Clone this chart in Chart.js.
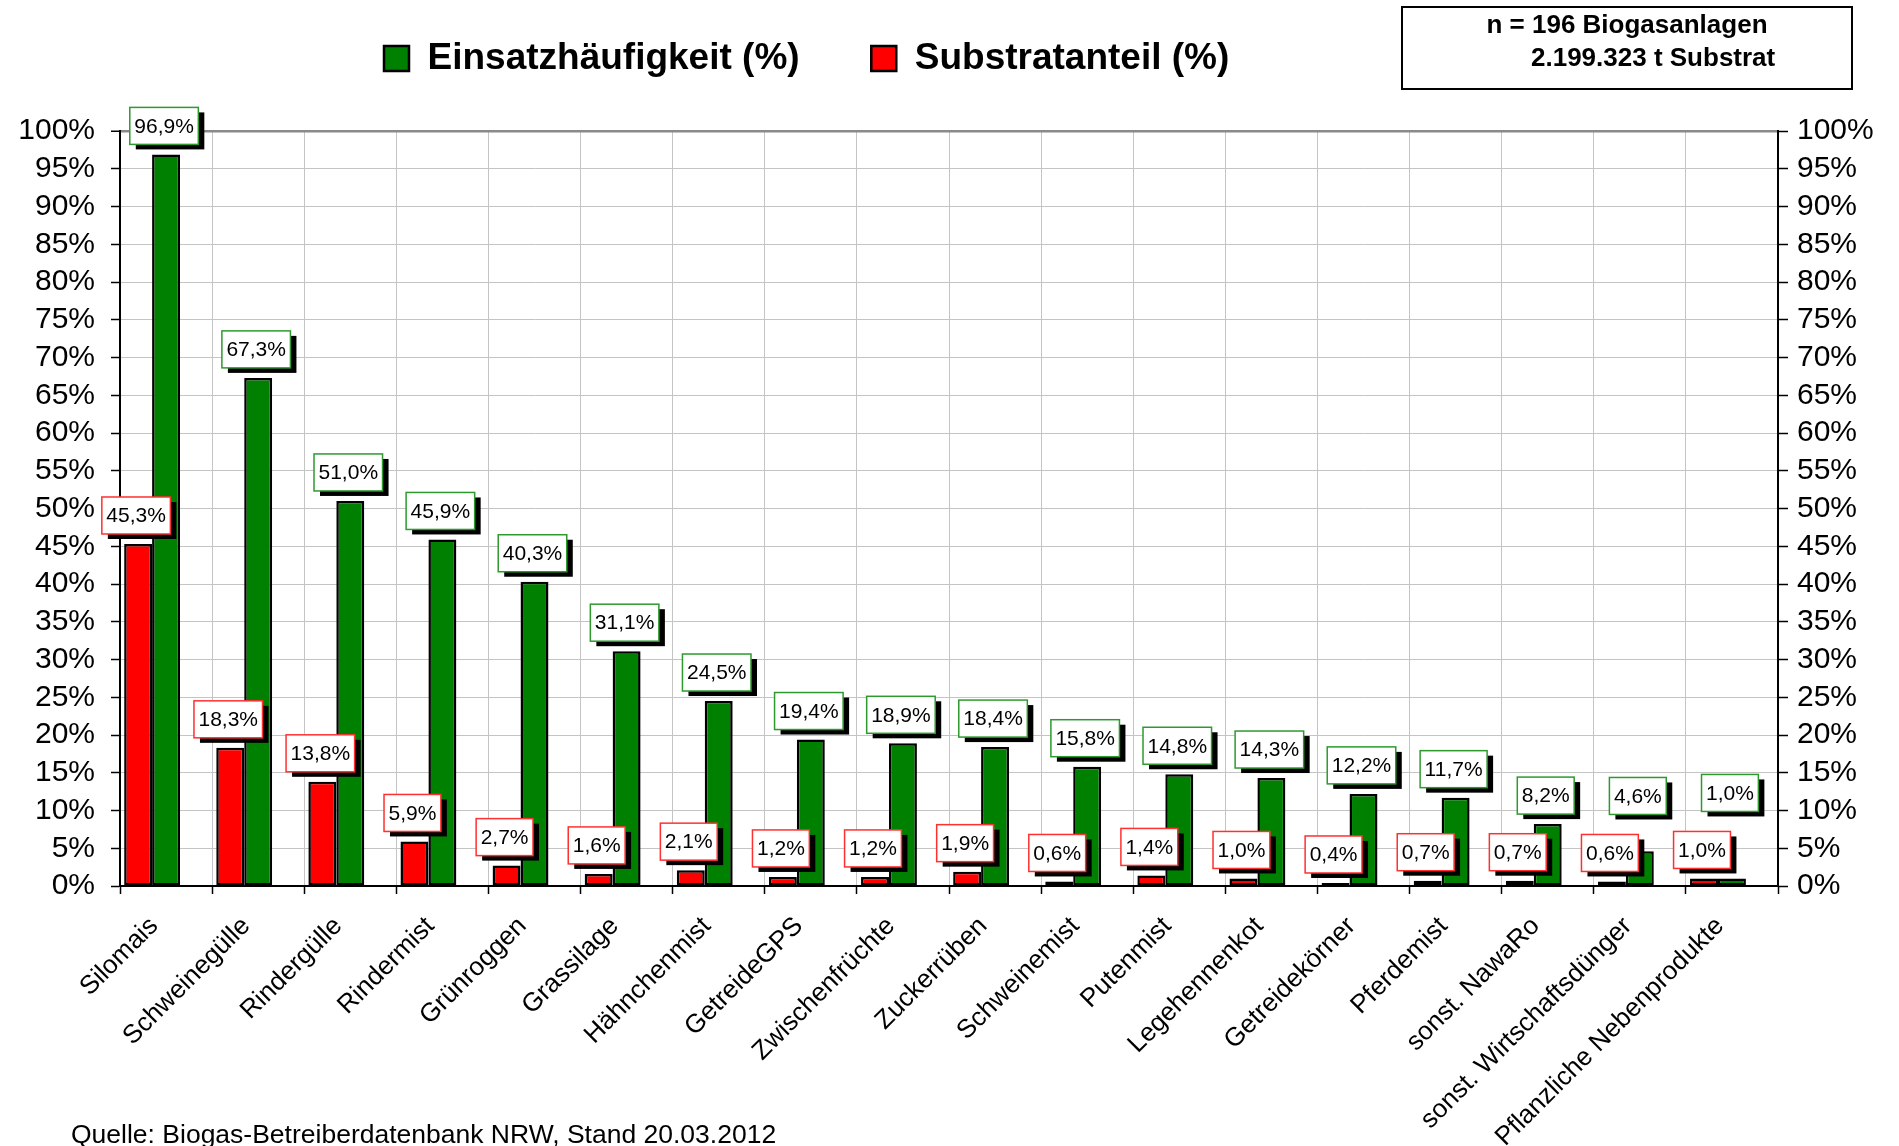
<!DOCTYPE html>
<html lang="de">
<head>
<meta charset="utf-8">
<title>Substrateinsatz in Biogasanlagen NRW</title>
<script src="https://cdn.jsdelivr.net/npm/chart.js@4.4.1/dist/chart.umd.min.js"></script>
<style>
    html, body { margin: 0; padding: 0; background: #fff; }
    body {
        position: relative;
        width: 1899px;
        height: 1146px;
        overflow: hidden;
        font-family: 'Liberation Sans', Arial, sans-serif;
        color: #000;
    }
    #chart { position: absolute; left: 0; top: 0; }
    .info-box {
        position: absolute;
        left: 1401px;
        top: 6px;
        width: 448px;
        height: 80px;
        border: 2px solid #000;
        font-size: 26px;
        font-weight: bold;
        line-height: 30px;
    }
    .info-box .l1 { position: absolute; left: 0; right: 0; top: 1px; text-align: center; }
    .info-box .l2 { position: absolute; left: 128px; top: 34px; white-space: nowrap; }
    .source {
        position: absolute;
        left: 71px;
        top: 1119px;
        font-size: 26.5px;
        line-height: 30px;
        white-space: nowrap;
    }
</style>
</head>
<body>
<canvas id="chart" width="1899" height="1146"></canvas>
<div class="info-box">
    <div class="l1">n = 196 Biogasanlagen</div>
    <div class="l2">2.199.323 t Substrat</div>
</div>
<div class="source">Quelle: Biogas-Betreiberdatenbank NRW, Stand 20.03.2012</div>

<script>
// ══════════════════════════════════════════════════════════════
// Substrate in NRW-Biogasanlagen — Einsatzhäufigkeit / Substratanteil
// ══════════════════════════════════════════════════════════════

const categories = [
    'Silomais', 'Schweinegülle', 'Rindergülle', 'Rindermist', 'Grünroggen',
    'Grassilage', 'Hähnchenmist', 'GetreideGPS', 'Zwischenfrüchte', 'Zuckerrüben',
    'Schweinemist', 'Putenmist', 'Legehennenkot', 'Getreidekörner', 'Pferdemist',
    'sonst. NawaRo', 'sonst. Wirtschaftsdünger', 'Pflanzliche Nebenprodukte'
];

// Einsatzhäufigkeit (%) — green
const einsatzhaeufigkeit = [
    96.9, 67.3, 51.0, 45.9, 40.3, 31.1, 24.5, 19.4, 18.9,
    18.4, 15.8, 14.8, 14.3, 12.2, 11.7, 8.2, 4.6, 1.0
];

// Substratanteil (%) — red
const substratanteil = [
    45.3, 18.3, 13.8, 5.9, 2.7, 1.6, 2.1, 1.2, 1.2,
    1.9, 0.6, 1.4, 1.0, 0.4, 0.7, 0.7, 0.6, 1.0
];

const yMin = 0;
const yMax = 100;
const yStep = 5;

const GREEN = '#008000';
const RED = '#ff0000';
const FONT = "'Liberation Sans', Arial, sans-serif";

Chart.defaults.font.family = FONT;
Chart.defaults.color = '#000';

const pct = (v) => v + '%';
const pctComma = (v) => v.toFixed(1).replace('.', ',') + '%';

// Boxed value labels with a hard black shadow, drawn above each bar
function labelBox(ctx, bar, text) {
    const w = ctx.measureText(text).width + 9;
    const h = 37;
    return { x: bar.x - 2 - w / 2, y: bar.y - 10 - h, w, h, text };
}

function drawLabelBox(ctx, b, stroke) {
    ctx.fillStyle = '#000';
    ctx.fillRect(b.x + 6, b.y + 5, b.w, b.h);
    ctx.fillStyle = '#fff';
    ctx.fillRect(b.x, b.y, b.w, b.h);
    ctx.strokeStyle = stroke;
    ctx.lineWidth = 1.5;
    ctx.strokeRect(b.x, b.y, b.w, b.h);
    ctx.fillStyle = '#000';
    ctx.fillText(b.text, b.x + b.w / 2, b.y + b.h / 2 + 1);
}

const valueLabels = {
    id: 'valueLabels',
    afterDatasetsDraw(chart) {
        const ctx = chart.ctx;
        const redMeta = chart.getDatasetMeta(0);
        const greenMeta = chart.getDatasetMeta(1);
        ctx.save();
        ctx.font = '21px ' + FONT;
        ctx.textAlign = 'center';
        ctx.textBaseline = 'middle';
        redMeta.data.forEach((bar, i) => {
            const red = labelBox(ctx, bar, pctComma(substratanteil[i]));
            const green = labelBox(ctx, greenMeta.data[i], pctComma(einsatzhaeufigkeit[i]));
            // lift the green label if it would sit on the red one
            const overlapX = green.x < red.x + red.w && green.x + green.w > red.x;
            if (overlapX && green.y + green.h > red.y - 10) {
                green.y = red.y - 20 - green.h;
            }
            drawLabelBox(ctx, red, '#ff3030');
            drawLabelBox(ctx, green, '#2e9a2e');
        });
        ctx.restore();
    }
};

// Legend sits left of centre in the original
const legendShift = {
    id: 'legendShift',
    afterLayout(chart) {
        if (!chart.legend) return;
        chart.legend.left += 374;
        chart.legend.right += 374;
    }
};

const ctx = document.getElementById('chart').getContext('2d');

new Chart(ctx, {
    type: 'bar',
    data: {
        labels: categories,
        datasets: [
            {
                label: 'Substratanteil (%)',
                data: substratanteil,
                backgroundColor: RED
            },
            {
                label: 'Einsatzhäufigkeit (%)',
                data: einsatzhaeufigkeit,
                backgroundColor: GREEN
            },
            {
                // empty slot: pushes the bar pair to the left of each category
                label: '',
                data: categories.map(() => null),
                backgroundColor: 'rgba(0,0,0,0)',
                borderWidth: 0
            }
        ]
    },
    options: {
        responsive: false,
        animation: false,
        devicePixelRatio: 1,
        layout: { padding: { top: 30, left: 0, right: 0, bottom: 0 } },
        datasets: {
            bar: {
                categoryPercentage: 0.91,
                barPercentage: 1,
                borderColor: '#000',
                borderWidth: 2.5,
                borderSkipped: false
            }
        },
        plugins: {
            legend: {
                position: 'top',
                align: 'start',
                weight: 3000,
                labels: {
                    boxWidth: 25,
                    boxHeight: 25,
                    padding: 10,
                    color: '#000',
                    font: { size: 37, weight: 'bold' },
                    generateLabels(chart) {
                        const items = Chart.defaults.plugins.legend.labels.generateLabels(chart);
                        return items
                            .filter(it => it.datasetIndex < 2)
                            .reverse()
                            .map(it => {
                                if (it.datasetIndex === 1) it.text += '\u00a0'.repeat(6);
                                return it;
                            });
                    }
                }
            },
            // spacer between legend and plot area
            title: {
                display: true,
                text: ' ',
                font: { size: 10, lineHeight: 1 },
                padding: { top: 34, bottom: 0 }
            },
            tooltip: { enabled: false }
        },
        scales: {
            x: {
                offset: true,
                grid: {
                    offset: true,
                    color: '#c4c4c4',
                    lineWidth: 1,
                    tickLength: 8,
                    tickColor: '#000',
                    tickWidth: 1.5
                },
                border: { color: '#000', width: 2 },
                ticks: {
                    autoSkip: false,
                    minRotation: 45,
                    maxRotation: 45,
                    padding: 17,
                    labelOffset: -12,
                    color: '#000',
                    font: { size: 26 }
                },
                afterFit: (s) => { s.height = 260; }
            },
            y: {
                position: 'left',
                min: yMin,
                max: yMax,
                ticks: {
                    stepSize: yStep,
                    autoSkip: false,
                    padding: 16,
                    color: '#000',
                    font: { size: 30 },
                    callback: pct
                },
                grid: {
                    color: (c) => (c.tick && c.tick.value === yMax ? '#8a8a8a' : '#c4c4c4'),
                    lineWidth: (c) => (c.tick && c.tick.value === yMax ? 2.5 : 1),
                    tickLength: 9,
                    tickColor: '#000',
                    tickWidth: 1.5
                },
                border: { color: '#000', width: 2 },
                afterFit: (s) => { s.width = 120; }
            },
            y2: {
                position: 'right',
                min: yMin,
                max: yMax,
                ticks: {
                    stepSize: yStep,
                    autoSkip: false,
                    padding: 9,
                    color: '#000',
                    font: { size: 30 },
                    callback: pct
                },
                grid: {
                    drawOnChartArea: false,
                    tickLength: 10,
                    tickColor: '#000',
                    tickWidth: 1.5
                },
                border: { color: '#000', width: 2 },
                afterFit: (s) => { s.width = 121; }
            }
        }
    },
    plugins: [valueLabels, legendShift]
});
</script>
</body>
</html>
